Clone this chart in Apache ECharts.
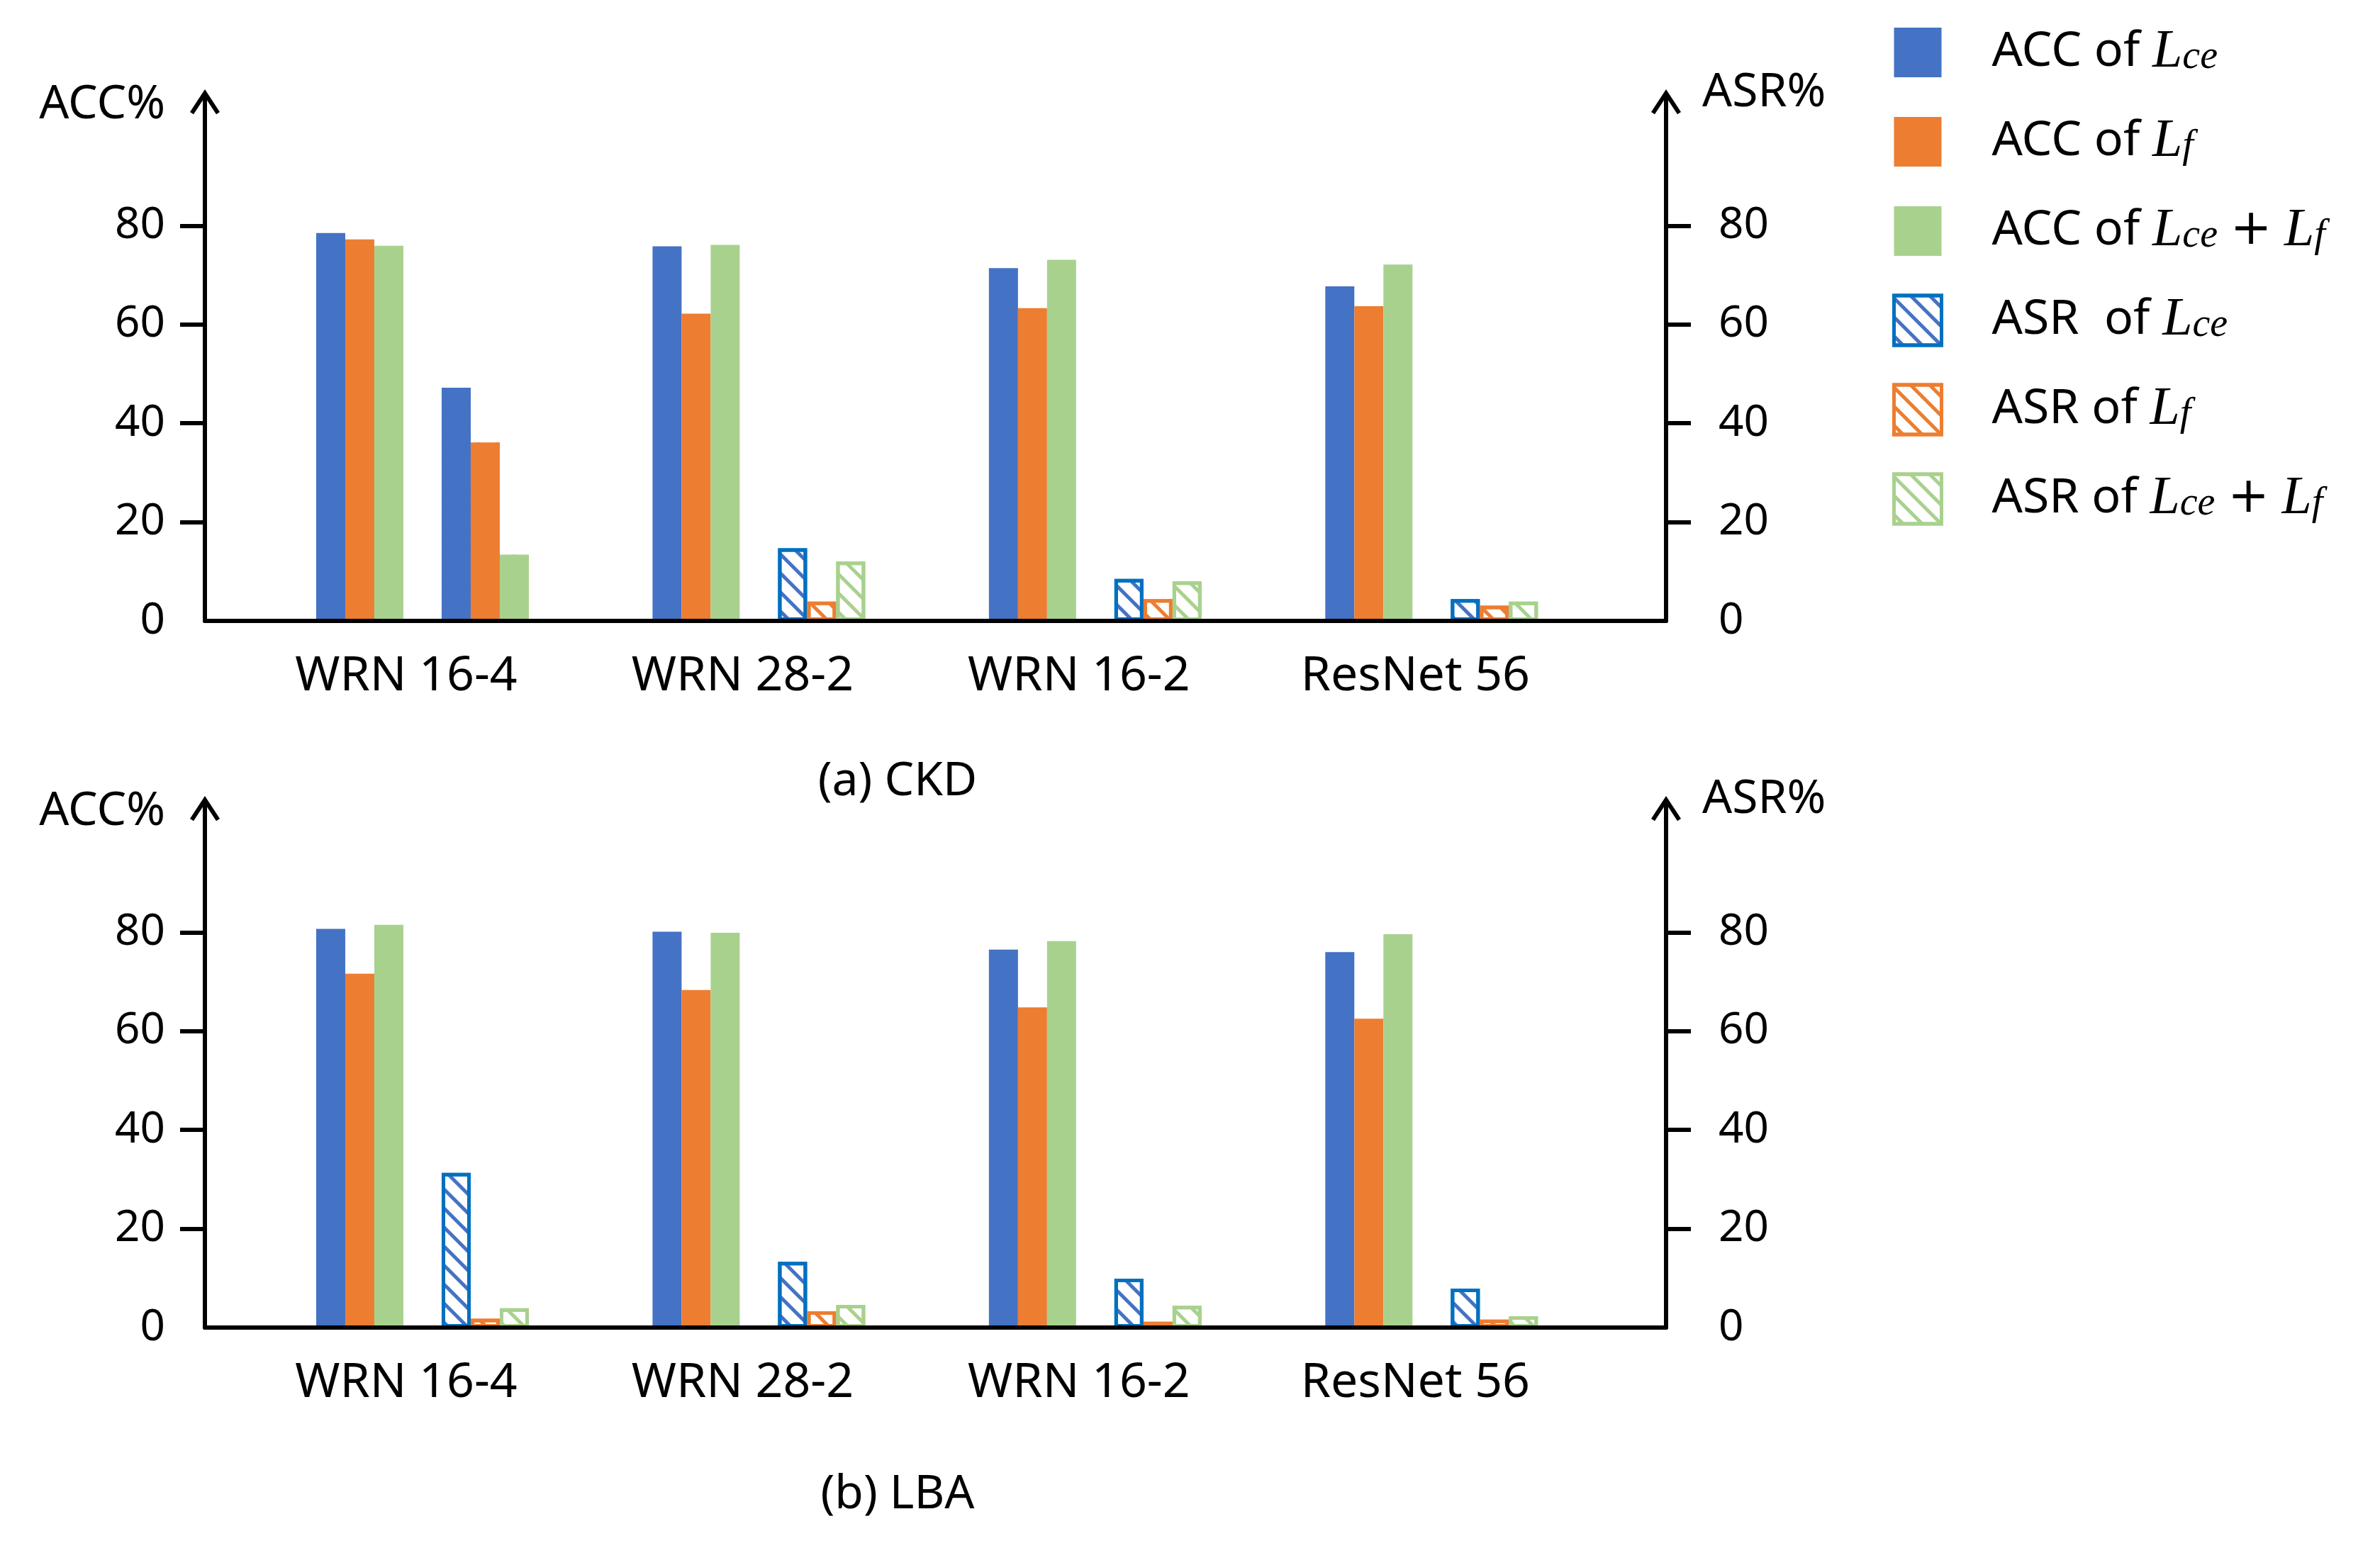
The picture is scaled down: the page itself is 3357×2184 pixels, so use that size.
<!DOCTYPE html>
<html><head><meta charset="utf-8">
<script src="https://cdn.jsdelivr.net/npm/echarts@6/dist/echarts.min.js"></script>
<style>html,body{margin:0;padding:0;background:#fff}#c{width:3357px;height:2184px}</style>
</head><body><div id="c"></div>
<script>
// ---------- data ----------
const categories = ['WRN 16-4', 'WRN 28-2', 'WRN 16-2', 'ResNet 56'];
const yTickLabels = [0, 20, 40, 60, 80];
// (a) CKD
const ckdAccCe   = [78.5, 75.8, 71.4, 67.7];
const ckdAccF    = [77.2, 62.2, 63.3, 63.7];
const ckdAccBoth = [75.9, 76.1, 73.1, 72.1];
const ckdAsrCe   = [47.2, 14.7, 8.5, 4.4];
const ckdAsrF    = [36.1, 3.9, 4.4, 3.1];
const ckdAsrBoth = [13.4, 12.0, 8.0, 3.9];
// (b) LBA
const lbaAccCe   = [80.7, 80.1, 76.5, 76.0];
const lbaAccF    = [71.6, 68.3, 64.8, 62.5];
const lbaAccBoth = [81.5, 79.9, 78.2, 79.6];
const lbaAsrCe   = [31.3, 13.3, 9.9, 7.9];
const lbaAsrF    = [1.8, 3.3, 1.2, 1.6];
const lbaAsrBoth = [3.9, 4.6, 4.4, 2.3];
const panelTitles = ['(a) CKD', '(b) LBA'];
const seriesNames = ['ACC of Lce', 'ACC of Lf', 'ACC of Lce+Lf', 'ASR of Lce', 'ASR of Lf', 'ASR of Lce+Lf'];
const legendLabels = {
  'ACC of Lce': 'ACC of {L|L}{s|ce}',
  'ACC of Lf': 'ACC of {L|L}{s|f}',
  'ACC of Lce+Lf': 'ACC of {L|L}{s|ce} {p|+} {L|L}{s|f}',
  'ASR of Lce': 'ASR  of {L|L}{s|ce}',
  'ASR of Lf': 'ASR of {L|L}{s|f}',
  'ASR of Lce+Lf': 'ASR of {L|L}{s|ce} {p|+} {L|L}{s|f}'
};

// ---------- styles ----------
const FONT = 'Noto Sans';
const fills = ['#4472C4', '#ED7D31', '#A9D18E'];
const borders = ['#0070C0', '#ED7D31', '#A9D18E'];
const ARROW = 'path://M21,0 L42,32 L37,35.3 L24,15.5 L24,36 L18,36 L18,15.5 L5,35.3 L0,32 Z';

function hatch(i, col) {
  return { symbol: 'rect', symbolSize: 1, dashArrayX: [1, 0], dashArrayY: [5, 14], rotation: Math.PI / 4, color: col || fills[i] };
}
function accStyle(i) { return { color: fills[i] }; }
function asrStyle(i) { return { color: '#fff', borderColor: borders[i], borderWidth: 5, decal: hatch(i) }; }

const panels = [
  { acc: [ckdAccCe, ckdAccF, ckdAccBoth], asr: [ckdAsrCe, ckdAsrF, ckdAsrBoth], solidAsrFirst: true },
  { acc: [lbaAccCe, lbaAccF, lbaAccBoth], asr: [lbaAsrCe, lbaAsrF, lbaAsrBoth], solidAsrFirst: false }
];

const grids = [
  { left: 289, right: 1007, top: 144, height: 732 },
  { left: 289, right: 1007, top: 1141, height: 732 }
];

const xAxes = [], yAxes = [], series = [];
panels.forEach((p, g) => {
  xAxes.push({
    type: 'value', gridIndex: g, min: -0.647, max: 3.697, z: 10,
    axisLine: { show: true, onZero: false, lineStyle: { color: '#000', width: 6 } },
    axisTick: { show: false }, splitLine: { show: false },
    axisLabel: {
      customValues: categories.map((c, i) => i),
      formatter: v => categories[Math.round(v)],
      fontSize: 68, color: '#000', fontFamily: FONT, margin: 45, padding: [0, 46, 0, 0]
    }
  });
  const yCommon = {
    type: 'value', gridIndex: g, min: 0, max: 105,
    axisLine: { show: true, onZero: false, lineStyle: { color: '#000', width: 6 }, symbol: ['none', ARROW], symbolSize: [42, 36] },
    axisTick: { show: true, customValues: yTickLabels.filter(v => v > 0), length: 35, lineStyle: { color: '#000', width: 6 } },
    splitLine: { show: false }
  };
  yAxes.push(Object.assign({}, yCommon, {
    position: 'left', name: 'ACC%', nameLocation: 'end', nameGap: -4,
    nameTextStyle: { fontSize: 66, color: '#000', fontFamily: FONT, align: 'right', verticalAlign: 'middle', padding: [0, 56, 0, 0] },
    axisLabel: { customValues: yTickLabels, fontSize: 62, color: '#000', fontFamily: FONT, margin: 56 }
  }));
  yAxes.push(Object.assign({}, yCommon, {
    position: 'right', name: 'ASR%', nameLocation: 'end', nameGap: 13,
    nameTextStyle: { fontSize: 66, color: '#000', fontFamily: FONT, align: 'left', verticalAlign: 'middle', padding: [0, 0, 0, 51] },
    axisLabel: { customValues: yTickLabels, fontSize: 62, color: '#000', fontFamily: FONT, margin: 74 }
  }));
  p.acc.forEach((vals, i) => {
    series.push({
      type: 'bar', name: seriesNames[i], xAxisIndex: g, yAxisIndex: g * 2,
      barWidth: 41, barGap: '0%', itemStyle: accStyle(i),
      data: vals.map((v, k) => [k, v])
    });
  });
  series.push({ type: 'bar', name: '_gap', xAxisIndex: g, yAxisIndex: g * 2, barWidth: 54, barGap: '0%', data: [], silent: true });
  p.asr.forEach((vals, i) => {
    series.push({
      type: 'bar', name: seriesNames[3 + i], xAxisIndex: g, yAxisIndex: g * 2 + 1,
      barWidth: 41, barGap: '0%', itemStyle: asrStyle(i),
      data: vals.map((v, k) => (p.solidAsrFirst && k === 0)
        ? { value: [k, v], itemStyle: { color: fills[i], borderWidth: 0, decal: hatch(i, fills[i]) } }
        : [k, v])
    });
  });
});

const legendData = seriesNames.map((n, i) => i < 3
  ? { name: n, itemStyle: { color: fills[i], borderWidth: 0 } }
  : { name: n, itemStyle: { color: '#fff', borderColor: borders[i - 3], borderWidth: 5, decal: hatch(i - 3) } });

const chart = echarts.init(document.getElementById('c'), null, { renderer: 'canvas' });
chart.setOption({
  animation: false,
  backgroundColor: '#fff',
  title: panelTitles.map((t, i) => ({
    text: t, left: 1266, top: i === 0 ? 1070 : 2076, textAlign: 'center', padding: 0,
    textStyle: { fontSize: 66, fontWeight: 'normal', fontFamily: FONT, color: '#000' }
  })),
  legend: {
    orient: 'vertical', left: 2664, top: 31, itemWidth: 67, itemHeight: 70, itemGap: 50,
    icon: 'rect', selectedMode: false, data: legendData,
    formatter: n => legendLabels[n],
    textStyle: {
      fontSize: 68, fontFamily: FONT, color: '#000', lineHeight: 70, padding: [0, 0, 0, 66],
      rich: {
        L: { fontSize: 76, fontFamily: 'Liberation Serif', fontStyle: 'italic', color: '#000', lineHeight: 70 },
        s: { fontSize: 56, fontFamily: 'Liberation Serif', fontStyle: 'italic', color: '#000', lineHeight: 32, verticalAlign: 'bottom' },
        p: { fontSize: 70, fontFamily: 'DejaVu Sans', color: '#000', lineHeight: 70 }
      }
    }
  },
  grid: grids,
  xAxis: xAxes,
  yAxis: yAxes,
  series: series
});
</script></body></html>
